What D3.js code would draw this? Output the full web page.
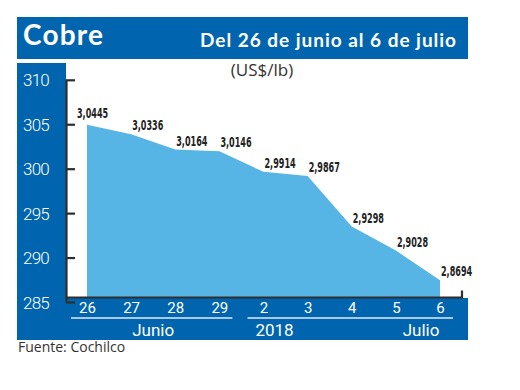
<!DOCTYPE html>
<html><head><meta charset="utf-8">
<script src="https://cdn.jsdelivr.net/npm/d3@7"></script>
<style>body{margin:0;background:#fff}svg{display:block}</style>
</head><body>
<svg id="c" width="520" height="390"></svg>
<script>
const days = ["26","27","28","29","2","3","4","5","6"];
const prices = [3.0445, 3.0336, 3.0164, 3.0146, 2.9914, 2.9867, 2.9298, 2.9028, 2.8694];
const priceLabels = ["3,0445","3,0336","3,0164","3,0146","2,9914","2,9867","2,9298","2,9028","2,8694"];
const yTicks = [285, 290, 295, 300, 305, 310];
const groups = [{name:"Junio", from:"26", to:"29"}, {name:"2018", from:"2", to:"6"}];
const monthLabel = {name:"Julio"};

const BLUE = "#0065ae", AREA = "#56b5e4", DARK = "#2e2e2e";
const svg = d3.select("#c");

const x = d3.scalePoint().domain(days).range([87, 440]);
const y = d3.scaleLinear().domain([285, 310]).range([297.5, 75.3]);

// Header
svg.append("rect").attr("x",17).attr("y",17).attr("width",451).attr("height",42).attr("fill",BLUE);
svg.append("text").attr("x",23).attr("y",45).text("Cobre")
  .attr("fill","#fff").attr("font-family","Lato, 'Open Sans', sans-serif").attr("font-weight",700)
  .attr("font-size",28).attr("textLength",80).attr("lengthAdjust","spacing");
svg.append("text").attr("x",200).attr("y",47).text("Del 26 de junio al 6 de julio")
  .attr("fill","#fff").attr("font-family","Lato, 'Open Sans', sans-serif").attr("font-weight",700)
  .attr("font-size",19).attr("textLength",256).attr("lengthAdjust","spacing");

// Left panel and bottom band
svg.append("rect").attr("x",17).attr("y",63).attr("width",49).attr("height",277).attr("fill",BLUE);
svg.append("rect").attr("x",17).attr("y",298).attr("width",451).attr("height",42).attr("fill",BLUE);

// Unit
svg.append("text").attr("x",262).attr("y",76).attr("text-anchor","middle").text("(US$/lb)")
  .attr("fill","#333").attr("font-family","'Open Sans', sans-serif").attr("font-size",17);

// Area
const area = d3.area().x((d,i)=>x(days[i])).y0(y(285)).y1(d=>y(d*100));
svg.append("path").datum(prices).attr("d",area).attr("fill",AREA);

// Y axis (drawn slightly lower, as in the reference)
const yAxis = d3.axisLeft(y).tickValues(yTicks).tickSize(-9).tickPadding(17).tickSizeOuter(0);
const ya = svg.append("g").attr("transform","translate(66,4.5)").call(yAxis);
ya.select(".domain").attr("stroke",DARK).attr("stroke-width",2.2);
ya.selectAll(".tick line").attr("stroke",DARK).attr("stroke-width",2.2);
ya.selectAll(".tick text").attr("fill","#fff").attr("font-family","Roboto, sans-serif")
  .attr("font-weight",300).attr("font-size",17).attr("letter-spacing",-0.8).attr("dy","0.36em");

// X baseline with end tick
svg.append("path").attr("d",`M66,${y(285)}H462V${y(285)-7}`).attr("fill","none")
  .attr("stroke",DARK).attr("stroke-width",2.2);

// X labels
const xAxis = d3.axisBottom(x).tickSize(0).tickPadding(0);
const xa = svg.append("g").attr("transform",`translate(0,${y(285)})`).call(xAxis);
xa.select(".domain").remove();
xa.selectAll(".tick text").attr("fill","#fff").attr("font-family","Roboto, sans-serif")
  .attr("font-size",15).attr("dy","1.05em").attr("y",0);

// Group separator lines and labels
groups.forEach(g => {
  svg.append("line").attr("x1",x(g.from) - 16).attr("x2",x(g.to) + 13).attr("y1",318).attr("y2",318)
    .attr("stroke","#a9c9ea").attr("stroke-width",2);
});
svg.append("text").attr("x",(x("27")+x("28"))/2).attr("y",336).attr("text-anchor","middle").text(groups[0].name)
  .attr("fill","#fff").attr("font-family","Roboto, sans-serif").attr("font-size",17);
svg.append("text").attr("x",x("2")+11).attr("y",336).attr("text-anchor","middle").text(groups[1].name)
  .attr("fill","#fff").attr("font-family","Roboto, sans-serif").attr("font-size",17);
svg.append("text").attr("x",x("6")-19).attr("y",336).attr("text-anchor","middle").text(monthLabel.name)
  .attr("fill","#fff").attr("font-family","Roboto, sans-serif").attr("font-size",17);

// Value labels (condensed horizontally)
svg.append("g").selectAll("text").data(prices).join("text")
  .attr("transform",(d,i)=> `translate(${x(days[i]) + (i===0 ? -10 : 1)},${y(d*100) - (i===0 ? 7 : 4)}) scale(0.62,1)`)
  .attr("text-anchor","start")
  .text((d,i)=>priceLabels[i])
  .attr("fill","#222").attr("font-family","'DejaVu Sans Condensed', 'DejaVu Sans', sans-serif")
  .attr("font-weight",700).attr("font-size",14.5);

// Source
svg.append("text").attr("x",18).attr("y",352).text("Fuente: Cochilco")
  .attr("fill","#333").attr("font-family","'Open Sans', sans-serif").attr("font-size",14);
</script>
</body></html>
